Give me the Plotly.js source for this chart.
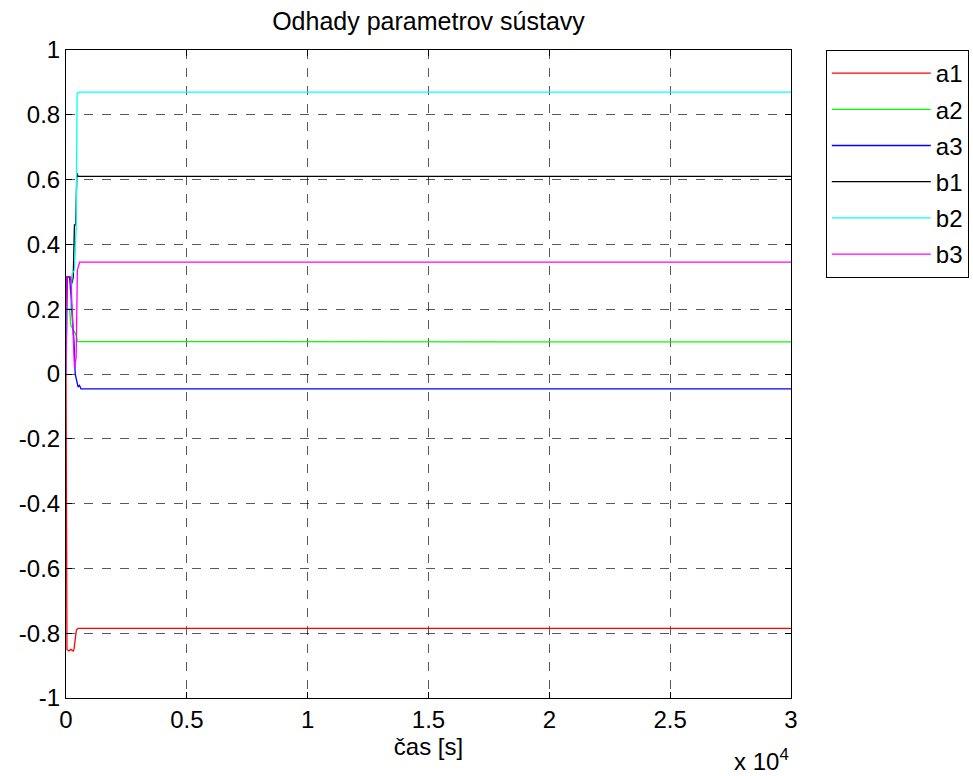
<!DOCTYPE html>
<html>
<head>
<meta charset="utf-8">
<script src="https://cdn.plot.ly/plotly-3.0.1.min.js"></script>
<style>html,body{margin:0;padding:0;background:#fff;}#chart{width:973px;height:776px;}</style>
</head>
<body>
<div id="chart"></div>
<script>
// Parameter estimates of the identified system (time in seconds)
const seriesNames = ["a1", "a2", "a3", "b1", "b2", "b3"];
const seriesColors = ["#ff0000", "#00ff00", "#0000ff", "#000000", "#00ffff", "#ff00ff"];

const tA1 = [0, 40, 120, 200, 300, 330, 380, 430, 500, 30000];
const vA1 = [0, -0.85, -0.855, -0.85, -0.855, -0.85, -0.82, -0.79, -0.785, -0.785];

const tA2 = [0, 40, 150, 200, 280, 350, 420, 480, 30000];
const vA2 = [0, 0.2, 0.2, 0.15, 0.14, 0.13, 0.12, 0.1, 0.099];

const tA3 = [0, 40, 150, 250, 330, 380, 450, 500, 560, 620, 30000];
const vA3 = [0, 0.3, 0.3, 0.2, 0.1, 0.0, -0.02, -0.04, -0.035, -0.046, -0.046];

const tB1 = [0, 40, 150, 250, 300, 350, 400, 450, 500, 30000];
const vB1 = [0.1, 0.3, 0.3, 0.28, 0.3, 0.46, 0.46, 0.62, 0.61, 0.61];

const tB2 = [0, 40, 200, 250, 350, 420, 460, 560, 30000];
const vB2 = [0, 0.2, 0.2, 0.31, 0.32, 0.45, 0.866, 0.87, 0.87];

const tB3 = [0, 40, 200, 300, 350, 420, 470, 560, 30000];
const vB3 = [0, 0.3, 0.3, 0.1, 0.02, 0.05, 0.32, 0.345, 0.345];

const xTickVals = [0, 5000, 10000, 15000, 20000, 25000, 30000];
const xTickText = ["0", "0.5", "1", "1.5", "2", "2.5", "3"];
const yTickVals = [-1, -0.8, -0.6, -0.4, -0.2, 0, 0.2, 0.4, 0.6, 0.8, 1];
const yTickText = ["-1", "-0.8", "-0.6", "-0.4", "-0.2", "0", "0.2", "0.4", "0.6", "0.8", "1"];

const times = [tA1, tA2, tA3, tB1, tB2, tB3];
const values = [vA1, vA2, vA3, vB1, vB2, vB3];

const traces = seriesNames.map((name, i) => ({
  x: times[i],
  y: values[i],
  name: name,
  legendgroup: name,
  type: "scatter",
  mode: "lines",
  line: { color: seriesColors[i], width: 1.3 }
}));

const font = { family: "Liberation Sans, Arial, sans-serif", size: 24, color: "#000" };

const axisCommon = {
  showline: true,
  linecolor: "#000",
  linewidth: 1,
  mirror: "ticks",
  ticks: "inside",
  ticklen: 6,
  tickcolor: "#000",
  showgrid: true,
  gridcolor: "rgba(0,0,0,0.65)",
  griddash: "dash",
  gridwidth: 1,
  zeroline: false,
  tickfont: font
};

const layout = {
  width: 973,
  height: 776,
  margin: { l: 66, r: 182, t: 50, b: 78, autoexpand: false },
  paper_bgcolor: "#fff",
  plot_bgcolor: "#fff",
  font: font,
  title: { text: "Odhady parametrov sústavy", font: Object.assign({}, font, { size: 25 }), x: 0.5, xref: "paper", xanchor: "center", y: 0.972, yanchor: "middle" },
  xaxis: Object.assign({}, axisCommon, {
    range: [0, 30000],
    tickmode: "array",
    tickvals: xTickVals,
    ticktext: xTickText,
    automargin: false,
    title: { text: "čas [s]", font: font, standoff: 4 }
  }),
  yaxis: Object.assign({}, axisCommon, {
    range: [-1, 1],
    tickmode: "array",
    tickvals: yTickVals,
    ticktext: yTickText,
    automargin: false
  }),
  showlegend: true,
  legend: {
    x: 1.048, xanchor: "left",
    y: 1, yanchor: "top",
    bgcolor: "#fff",
    bordercolor: "#000",
    borderwidth: 1,
    font: font,
    itemwidth: 99,
    tracegroupgap: 2,
    traceorder: "grouped"
  },
  annotations: [{
    text: "x 10<sup>4</sup>",
    xref: "paper", yref: "paper",
    x: 1, y: -0.095,
    xanchor: "right", yanchor: "middle",
    showarrow: false,
    font: font
  }]
};

Plotly.newPlot("chart", traces, layout, { displayModeBar: false, staticPlot: true });
</script>
</body>
</html>
